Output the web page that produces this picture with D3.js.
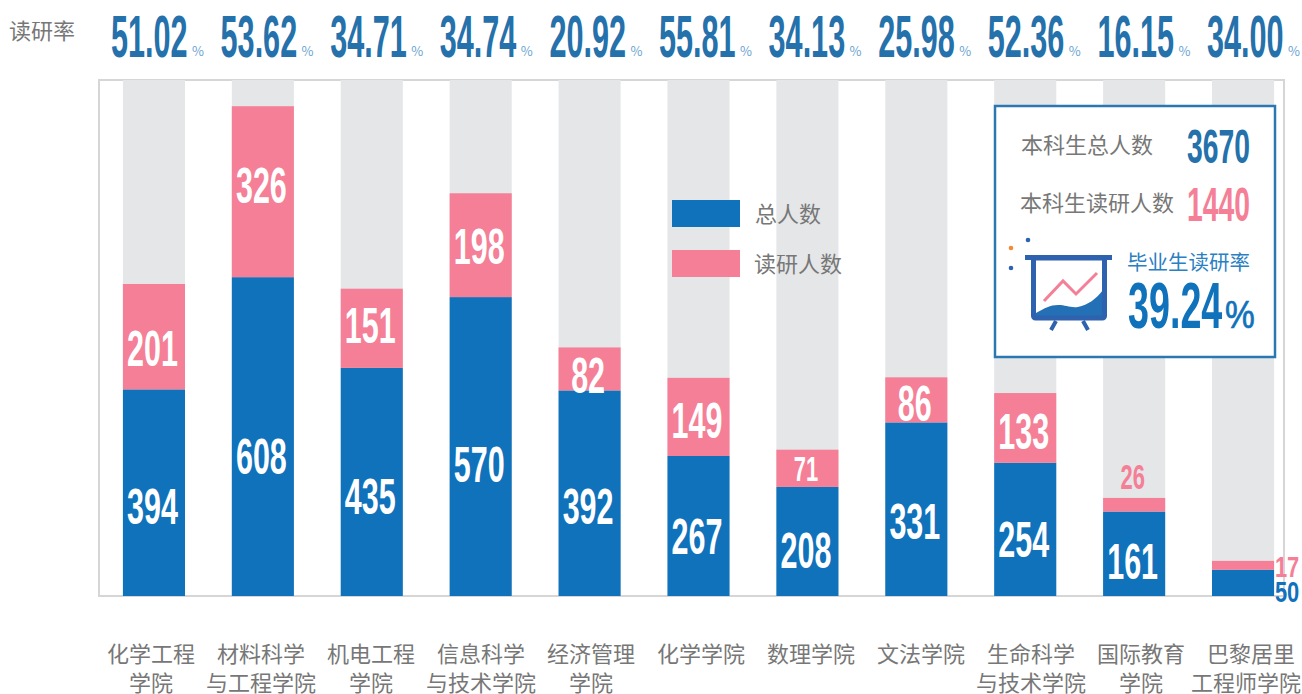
<!DOCTYPE html>
<html>
<head>
<meta charset="utf-8">
<script src="https://cdn.jsdelivr.net/npm/d3@7"></script>
<style>
  html, body { margin: 0; padding: 0; background: #fff; }
  text { font-family: "Noto Sans CJK SC", sans-serif; }
  .num { font-family: "Liberation Sans Narrow", "Liberation Sans", sans-serif; font-weight: 700; }
</style>
</head>
<body>
<svg id="chart" width="1302" height="694"></svg>
<script>
"use strict";

// Datos
const colleges = [
  ["化学工程", "学院"], ["材料科学", "与工程学院"], ["机电工程", "学院"], ["信息科学", "与技术学院"],
  ["经济管理", "学院"], ["化学学院"], ["数理学院"], ["文法学院"],
  ["生命科学", "与技术学院"], ["国际教育", "学院"], ["巴黎居里", "工程师学院"],
];
const totals = [394, 608, 435, 570, 392, 267, 208, 331, 254, 161, 50];
const graduates = [201, 326, 151, 198, 82, 149, 71, 86, 133, 26, 17];
const rates = ["51.02", "53.62", "34.71", "34.74", "20.92", "55.81", "34.13", "25.98", "52.36", "16.15", "34.00"];
const legendNames = ["总人数", "读研人数"];
const summaryTotal = "3670";
const summaryGrad = "1440";
const summaryRate = "39.24";

const BLUE = "#0f72bb", PINK = "#f47f96", GREY = "#e5e6e8", TEXT = "#777777", DARK = "#2471ab";
const margin = { top: 80, bottom: 98, left: 99, right: 18 };
const width = 1302, height = 694;
const svg = d3.select("#chart");

// Ajuste vertical a mano de las etiquetas rosas (por valor)
const pinkNudge = { 201: 8, 326: -10, 151: -6, 198: -2, 82: 3, 71: -3 };

// Escalas
const idx = d3.range(colleges.length);
const x = d3.scaleBand().domain(idx).range([99.5, 1297.5]).paddingInner(0.43).paddingOuter(0.215);
const y = d3.scaleLinear().domain([0, 984]).range([height - margin.bottom, margin.top]);
const rateX = d3.scalePoint().domain(idx).range([111, 1207]);
const nameX = d3.scalePoint().domain(idx).range([151, 1251]);

// Texto condensado: estrecha el número horizontalmente
function condensed(parent, str, px, py, size, fill, sx, anchor) {
  return parent.append("text")
    .attr("class", "num")
    .attr("transform", `translate(${px},${py}) scale(${sx},1)`)
    .attr("text-anchor", anchor || "middle")
    .attr("font-size", size)
    .attr("fill", fill)
    .text(str);
}
const BIG = 50, SMALL = 36, TINY = 30, SX = 0.61;
const cap = (s) => s * 0.36;

// Marco
svg.append("path")
  .attr("d", `M${margin.left},${y(0)}V${margin.top}H${width - margin.right}V${y(0)}Z`)
  .attr("fill", "none").attr("stroke", "#d6d6d6").attr("stroke-width", 2);

// Fondo gris de cada columna
svg.append("g").selectAll("rect").data(idx).join("rect")
  .attr("x", (i) => x(i)).attr("width", x.bandwidth())
  .attr("y", margin.top).attr("height", y(0) - margin.top)
  .attr("fill", GREY);

// Barras apiladas
const stacked = d3.stack().keys(["total", "grad"])(idx.map((i) => ({ total: totals[i], grad: graduates[i] })));
svg.append("g").selectAll("g").data(stacked).join("g")
  .attr("fill", (s) => (s.key === "total" ? BLUE : PINK))
  .selectAll("rect").data((s) => s).join("rect")
  .attr("x", (d, i) => x(i)).attr("width", x.bandwidth())
  .attr("y", (d) => y(d[1])).attr("height", (d) => y(d[0]) - y(d[1]));

// Etiquetas de valores
idx.forEach((i) => {
  const cx = x(i) + x.bandwidth() / 2 - 1.5;
  const side = x(i) + x.bandwidth() + 13;
  if (totals[i] < 100) {
    condensed(svg, totals[i], side, y(0) + 6, TINY, BLUE, 0.73);
  } else {
    condensed(svg, totals[i], cx, y(totals[i] * 0.45) + 3 + cap(BIG), BIG, "#fff", SX);
  }
  const top = y(totals[i] + graduates[i]), bottom = y(totals[i]);
  if (graduates[i] < 20) {
    condensed(svg, graduates[i], side, bottom + 7, TINY, PINK, 0.73);
  } else if (graduates[i] < 50) {
    condensed(svg, graduates[i], cx, top - 9, SMALL, PINK, SX);
  } else {
    const s = graduates[i] < 80 ? SMALL : BIG;
    condensed(svg, graduates[i], cx, (top + bottom) / 2 + 3 + cap(s) + (pinkNudge[graduates[i]] || 0), s, "#fff", SX);
  }
});

// Fila superior de tasas
svg.append("text").attr("x", 9).attr("y", 39).attr("font-size", 22).attr("fill", TEXT).text("读研率");
rates.forEach((r, i) => {
  condensed(svg, r, rateX(i), 57, 60, DARK, 0.51, "start");
  svg.append("text").attr("x", rateX(i) + 81).attr("y", 56).attr("font-size", 13).attr("fill", "#6ba4d0").text("%");
});

// Nombres de colegios
const labels = svg.append("g").attr("font-size", 22).attr("fill", TEXT).attr("text-anchor", "middle");
idx.forEach((i) => {
  colleges[i].forEach((line, k) => {
    const t = labels.append("text").attr("y", 662 + k * 29).text(line);
    // la última línea no debe salirse por la derecha
    const w = t.node().getComputedTextLength();
    t.attr("x", Math.min(nameX(i), width - 1 - w / 2));
  });
});

// Leyenda
[BLUE, PINK].forEach((c, k) => {
  svg.append("rect").attr("x", 672).attr("y", 200 + k * 50).attr("width", 68).attr("height", 27).attr("fill", c);
  svg.append("text").attr("x", 755 - k).attr("y", 222 + k * 50).attr("font-size", 22).attr("fill", TEXT).text(legendNames[k]);
});

// Panel de resumen
const panel = svg.append("g");
panel.append("rect").attr("x", 995).attr("y", 106).attr("width", 280).attr("height", 251)
  .attr("fill", "#fff").attr("stroke", "#2a77b2").attr("stroke-width", 2.5);
panel.append("text").attr("x", 1021).attr("y", 153).attr("font-size", 22).attr("fill", TEXT).text("本科生总人数");
panel.append("text").attr("x", 1020).attr("y", 211).attr("font-size", 22).attr("fill", TEXT).text("本科生读研人数");
condensed(panel, summaryTotal, 1250, 163, 48, DARK, 0.59, "end");
condensed(panel, summaryGrad, 1250, 221, 48, PINK, 0.59, "end");
panel.append("text").attr("x", 1127).attr("y", 270).attr("font-size", 20.5).attr("fill", "#2a80c2").text("毕业生读研率");
condensed(panel, summaryRate, 1128, 328, 65, BLUE, 0.58, "start");
condensed(panel, "%", 1225, 328, 38, BLUE, 0.88, "start")
  .style("font-weight", 400).attr("stroke", BLUE).attr("stroke-width", 0.7);

// Icono de la pizarra
const icon = panel.append("g");
icon.append("path")
  .attr("d", "M1036,313C1045,308 1050,305 1058,305C1066,305 1070,308 1078,307C1088,305 1096,299 1103,290V318H1036Z")
  .attr("fill", "#2470b6");
icon.append("rect").attr("x", 1033.5).attr("y", 258).attr("width", 71).attr("height", 60).attr("rx", 2)
  .attr("fill", "none").attr("stroke", "#2f62ae").attr("stroke-width", 5);
icon.append("rect").attr("x", 1025).attr("y", 255).attr("width", 87).attr("height", 5).attr("fill", "#2f62ae");
icon.append("path").attr("d", "M1056,321L1051,330M1083,321L1088,330")
  .attr("fill", "none").attr("stroke", "#2f62ae").attr("stroke-width", 4);
icon.append("path").attr("d", "M1044,301L1063,281L1076,294L1097,273")
  .attr("fill", "none").attr("stroke", PINK).attr("stroke-width", 3);
icon.append("circle").attr("cx", 1028).attr("cy", 240).attr("r", 2.3).attr("fill", "#2f62ae");
icon.append("circle").attr("cx", 1011).attr("cy", 248).attr("r", 2.3).attr("fill", "#f58a33");
icon.append("circle").attr("cx", 1011).attr("cy", 268).attr("r", 2.3).attr("fill", "#2f62ae");
</script>
</body>
</html>
